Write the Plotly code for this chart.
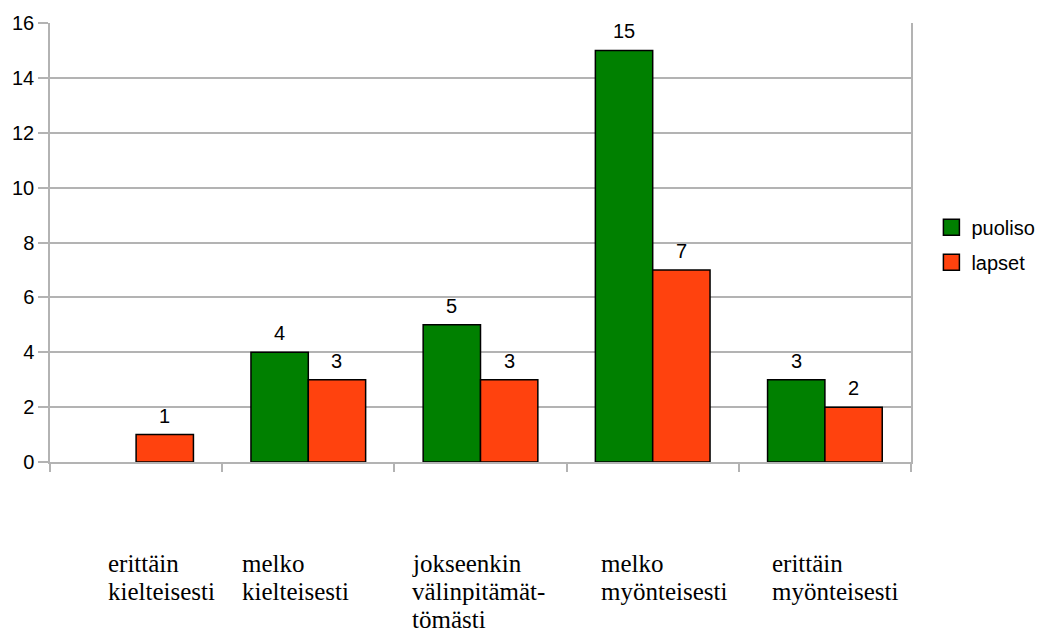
import plotly.graph_objects as go

# Response categories (one list entry per printed line) and counts per group
categories = [
    ["erittäin", "kielteisesti"],
    ["melko", "kielteisesti"],
    ["jokseenkin", "välinpitämät-", "tömästi"],
    ["melko", "myönteisesti"],
    ["erittäin", "myönteisesti"],
]
series_names = ["puoliso", "lapset"]
puoliso = [0, 4, 5, 15, 3]
lapset = [1, 3, 3, 7, 2]
y_ticks = [0, 2, 4, 6, 8, 10, 12, 14, 16]

GREEN = "#008000"
RED = "#ff420e"
GRID = "#b3b3b3"
BARGAP = 0.334

idx = list(range(len(categories)))


def outline(values):
    # empty bars get no outline
    return [0 if v == 0 else 1.5 for v in values]


fig = go.Figure()
for name, values, color in ((series_names[0], puoliso, GREEN),
                            (series_names[1], lapset, RED)):
    fig.add_trace(go.Bar(
        x=idx, y=values, name=name, showlegend=False,
        marker=dict(color=color, line=dict(color="black", width=outline(values))),
    ))
    # legend key: outlined square swatch
    fig.add_trace(go.Scatter(
        x=[None], y=[None], name=name, mode="markers", legendgroup=name,
        marker=dict(symbol="square", size=16, color=color,
                    line=dict(color="black", width=1.5)),
    ))

# Value labels above each bar (no label for empty bars)
half = (1 - BARGAP) / 4
annotations = []
for series, off in ((puoliso, -half), (lapset, half)):
    for i, v in enumerate(series):
        if v == 0:
            continue
        annotations.append(dict(
            x=i + off, y=v, xref="x", yref="y", text=str(v),
            showarrow=False, yanchor="middle", yshift=19,
            font=dict(family="Liberation Sans, Arial", size=20, color="black"),
        ))

# Category labels, left aligned below the axis, one annotation per line
label_left = [106, 240, 410, 599, 770]
LINE_STEP = 28
for lines, px in zip(categories, label_left):
    for k, line in enumerate(lines):
        annotations.append(dict(
            x=(px - 50) / 861, y=-0.2313, xref="paper", yref="paper",
            yshift=-LINE_STEP * k,
            text=line, showarrow=False, xanchor="left", yanchor="middle",
            align="left",
            font=dict(family="Liberation Serif, Times New Roman", size=25,
                      color="black"),
        ))

fig.update_layout(
    width=1043, height=634,
    margin=dict(l=50, r=132, t=21, b=172),
    paper_bgcolor="white", plot_bgcolor="white",
    barmode="group", bargap=BARGAP, bargroupgap=0,
    showlegend=True,
    legend=dict(
        xref="container", yref="container",
        x=0.893, y=0.614, xanchor="left", yanchor="middle",
        font=dict(family="Liberation Sans, Arial", size=20, color="black"),
        traceorder="grouped", tracegroupgap=6,
        bgcolor="rgba(0,0,0,0)",
    ),
    annotations=annotations,
    xaxis=dict(
        range=[-0.5, 4.5], tickmode="array",
        tickvals=[-0.5, 0.5, 1.5, 2.5, 3.5, 4.5], ticktext=[""] * 6,
        ticks="outside", ticklen=8, tickcolor=GRID, tickwidth=1.5,
        showgrid=False, zeroline=False,
        showline=True, linecolor=GRID, linewidth=1.5,
    ),
    yaxis=dict(
        range=[0, 16], tickmode="array", tickvals=y_ticks,
        ticks="outside", ticklen=10, tickcolor=GRID, tickwidth=1.5,
        showgrid=True, gridcolor=GRID, gridwidth=1.5,
        zeroline=False, showline=True, linecolor=GRID, linewidth=1.5,
        mirror=True,
        tickfont=dict(family="Liberation Sans, Arial", size=20, color="black"),
    ),
)

fig.write_html("out.html")
